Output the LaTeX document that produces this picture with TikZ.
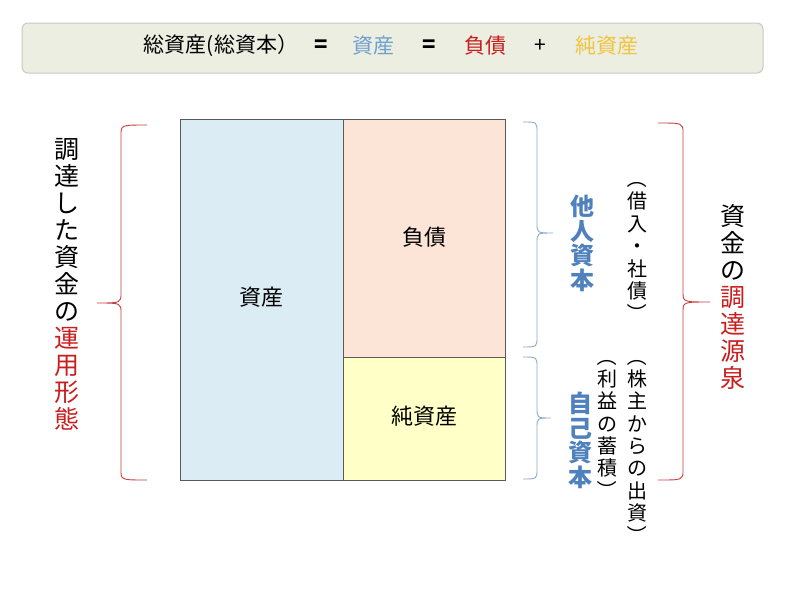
\documentclass[tikz,border=0pt]{standalone}
\usepackage{fontspec}
\setmainfont{Noto Sans CJK JP}
\usepackage{graphicx}
\definecolor{barfill}{RGB}{235,238,224}
\definecolor{barline}{RGB}{200,200,196}
\definecolor{assetfill}{RGB}{219,236,244}
\definecolor{debtfill}{RGB}{252,229,214}
\definecolor{eqfill}{RGB}{255,255,200}
\definecolor{boxline}{RGB}{90,90,90}
\definecolor{tblue}{RGB}{111,160,206}
\definecolor{tred}{RGB}{200,30,30}
\definecolor{tyellow}{RGB}{240,196,60}
\definecolor{bblue}{RGB}{79,129,189}
\definecolor{braceblue}{RGB}{140,170,205}
\definecolor{bracered}{RGB}{200,60,60}
\newcommand{\vp}[1]{\rotatebox[origin=c]{-90}{#1}}
\newcommand{\bracepath}[6]{%
  (#1,#4) .. controls (#2,#4) .. (#2,{#4+10}) -- (#2,{#5-10})
  .. controls (#2,#5) .. (#3,#5) .. controls (#2,#5) .. (#2,{#5+10})
  -- (#2,{#6-10}) .. controls (#2,#6) .. (#1,#6)}
\begin{document}
\begin{tikzpicture}[x=1pt,y=-1pt,
  bartext/.style={inner sep=0pt,font=\fontsize{21}{24}\selectfont},
  cell/.style={draw=boxline,line width=0.8pt,inner sep=0pt},
  celltext/.style={font=\fontsize{22}{24}\selectfont},
  vtext/.style={inner sep=0pt,align=center,anchor=north},
  bracestyle/.style={line width=0.9pt}]
\useasboundingbox (0,0) rectangle (800,600);
\fill[white] (0,0) rectangle (800,600);
% top bar
\node[draw=barline,fill=barfill,rounded corners=6pt,line width=1pt,
  minimum width=741pt,minimum height=50pt,inner sep=0pt] (bar) at (392.5,48) {};
\node[bartext] (t1) at (221,46) {総資産(総資本）};
\node[bartext,font=\fontsize{22}{24}\selectfont\bfseries] (t2) at (321,46) {=};
\node[bartext,text=tblue] (t3) at (373,46) {資産};
\node[bartext,font=\fontsize{22}{24}\selectfont\bfseries] (t4) at (429,46) {=};
\node[bartext,text=tred] (t5) at (485,46) {負債};
\node[bartext] (t6) at (540,46) {+};
\node[bartext,text=tyellow] (t7) at (607,46) {純資産};
% balance sheet
\node[cell,fill=assetfill,minimum width=163pt,minimum height=361pt] (asset) at (261.5,299.5) {};
\node[cell,fill=debtfill,minimum width=162pt,minimum height=238pt] (debt) at (424,238) {};
\node[cell,fill=eqfill,minimum width=162pt,minimum height=123pt] (equity) at (424,418.5) {};
\node[celltext] (lasset) at (261,297) {資産};
\node[celltext] (ldebt) at (424,237) {負債};
\node[celltext] (lequity) at (424,416) {純資産};
% braces
\draw[bracestyle,bracered] \bracepath{147}{121}{97}{125}{303}{480};
\draw[bracestyle,braceblue] \bracepath{523}{537}{553}{122}{233}{347};
\draw[bracestyle,braceblue] \bracepath{523}{537}{551}{357}{418}{479};
\draw[bracestyle,bracered] \bracepath{658}{683}{710}{123}{302}{480};
% vertical texts
\node[vtext,font=\fontsize{25}{27}\selectfont] (left) at (67,138)
  {調\\達\\し\\た\\資\\金\\の\\\textcolor{tred}{運}\\\textcolor{tred}{用}\\\textcolor{tred}{形}\\\textcolor{tred}{態}};
\node[vtext,font=\fontsize{24}{24.5}\selectfont\bfseries,text=bblue] (tanin) at (582,195)
  {他\\人\\資\\本};
\node[vtext,font=\fontsize{24}{24.5}\selectfont\bfseries,text=bblue] (jiko) at (580,392)
  {自\\己\\資\\本};
\node[vtext,font=\fontsize{20}{22.5}\selectfont] (kari) at (637,168.5)
  {\vp{（}\\借\\入\\・\\社\\債\\\vp{）}};
\node[vtext,font=\fontsize{20}{22.3}\selectfont] (kabu) at (637,346.5)
  {\vp{（}\\株\\主\\か\\ら\\の\\出\\資\\\vp{）}};
\node[vtext,font=\fontsize{20}{22.3}\selectfont] (rieki) at (607,346.5)
  {\vp{（}\\利\\益\\の\\蓄\\積\\\vp{）}};
\node[vtext,font=\fontsize{25}{27}\selectfont] (right) at (733,204)
  {資\\金\\の\\\textcolor{tred}{調}\\\textcolor{tred}{達}\\\textcolor{tred}{源}\\\textcolor{tred}{泉}};
\end{tikzpicture}
\end{document}
